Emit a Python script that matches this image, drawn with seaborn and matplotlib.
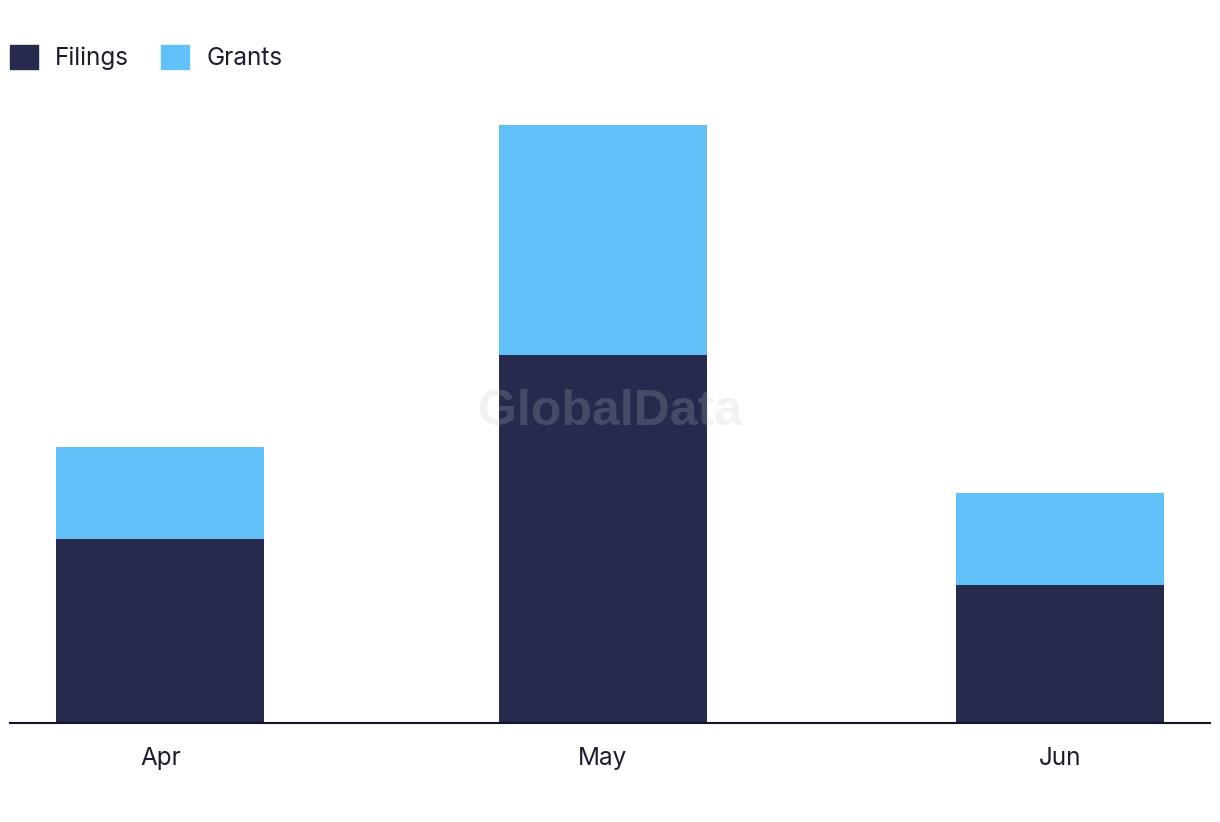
import numpy as np
import pandas as pd
import matplotlib
matplotlib.use("Agg")
import matplotlib.pyplot as plt
import matplotlib.dates as mdates
from matplotlib.patches import Patch
import seaborn as sns

# data
months = ["2024-04-01", "2024-05-01", "2024-06-01"]
month_labels = ["Apr", "May", "Jun"]
filings = [4, 8, 3]
grants = [2, 5, 2]

sns.set_theme(style="white")
plt.rcParams["font.family"] = ["Inter", "DejaVu Sans"]

c_fil = "#272a4c"
c_gra = "#62c1f9"
txt = "#1c1c30"

x = mdates.date2num(pd.to_datetime(months))
df = pd.DataFrame({"x": x, "filings": filings,
                   "total": np.array(filings) + np.array(grants)})

fig = plt.figure(figsize=(12.2, 8.22), dpi=100)
ax = fig.add_axes([10 / 1220, 99 / 822, 1200 / 1220, 623 / 822])

sns.barplot(data=df, x="x", y="total", native_scale=True, color=c_gra,
            saturation=1, width=0.4707, ax=ax, linewidth=0)
sns.barplot(data=df, x="x", y="filings", native_scale=True, color=c_fil,
            saturation=1, width=0.4707, ax=ax, linewidth=0)

ax.set_xlim(x[0] - 10.2, x[-1] + 10.2)
ax.set_ylim(0, 13.54)
ax.set_xticks(x)
ax.set_xticklabels(month_labels, fontsize=17.5, color=txt)
ax.set_yticks([])
ax.set_xlabel("")
ax.set_ylabel("")
for s in ["top", "right", "left"]:
    ax.spines[s].set_visible(False)
ax.spines["bottom"].set_color("#14142a")
ax.spines["bottom"].set_linewidth(1.5)
ax.tick_params(axis="x", length=0, pad=17)

handles = [Patch(color=c_fil, label="Filings"), Patch(color=c_gra, label="Grants")]
fig.legend(handles=handles, loc="upper left",
           bbox_to_anchor=(10 / 1220, 1 - 45 / 822),
           ncol=2, frameon=False, fontsize=17.5, handlelength=1.15,
           handleheight=1.15, handletextpad=0.7, columnspacing=1.32,
           borderpad=0, borderaxespad=0, labelcolor=txt)

fig.text(0.5, 0.499, "GlobalData", ha="center", va="center", fontsize=36,
         fontweight="bold", family="Liberation Sans", color="#c2c2c8",
         alpha=0.21)

fig.savefig("out.png", dpi=100)
